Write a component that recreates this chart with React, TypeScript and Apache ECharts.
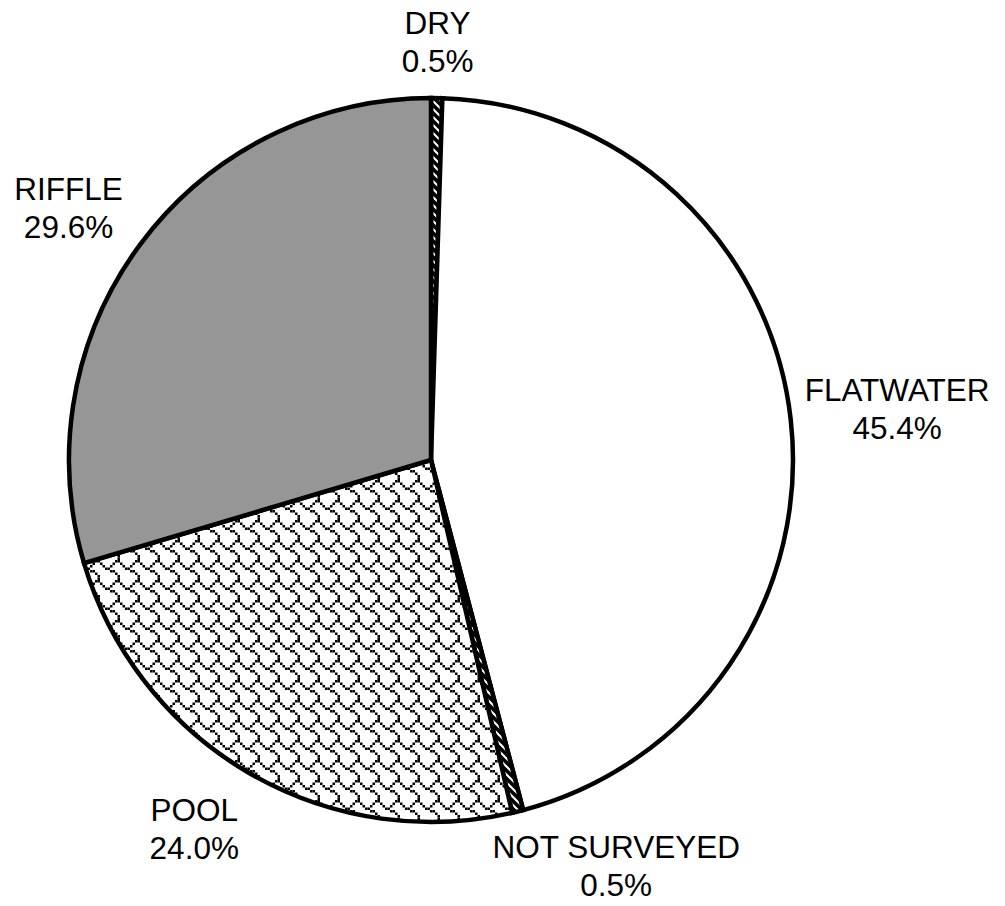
import React, { useEffect, useRef } from "react";
import * as echarts from "echarts";

// Stream habitat composition (percent of surveyed length)
const categories = ["DRY", "FLATWATER", "NOT SURVEYED", "POOL", "RIFFLE"];
const shares = [0.5, 45.4, 0.5, 24.0, 29.6];

const CENTER: [number, number] = [431, 460];
const RADIUS = 362;
const LABEL_GAP = 19;
// Hand adjustments of each label away from its computed outside position
const labelNudge: [number, number][] = [
  [0, 2],
  [-8, 3],
  [78, -29],
  [-17, -8],
  [-4, 15],
];
const FONT = "'Liberation Sans', Arial, Helvetica, sans-serif";

// 8x8 shingle hatch bitmap, one byte per row (MSB = left pixel)
const shingleRows = [0x03, 0x84, 0x48, 0x30, 0x0c, 0x02, 0x01, 0x01];

function svgUrl(svg: string) {
  return "data:image/svg+xml;charset=utf-8," + encodeURIComponent(svg);
}

function bitmapPattern(rows: number[], scale: number) {
  const size = 8 * scale;
  let rects = "";
  rows.forEach((row, y) => {
    for (let x = 0; x < 8; x++) {
      if (row & (0x80 >> x)) {
        rects += `<rect x="${x * scale}" y="${y * scale}" width="${scale}" height="${scale}"/>`;
      }
    }
  });
  const svg = `<svg xmlns="http://www.w3.org/2000/svg" width="${size}" height="${size}"><rect width="${size}" height="${size}" fill="#fff"/><g fill="#000">${rects}</g></svg>`;
  return { image: svgUrl(svg), repeat: "repeat", imageWidth: size, imageHeight: size };
}

function stripePattern(size: number, width: number) {
  const e = size + 2;
  const svg = `<svg xmlns="http://www.w3.org/2000/svg" width="${size}" height="${size}"><rect width="${size}" height="${size}" fill="#fff"/><path d="M-2,-2 L${e},${e} M-2,${size - 2} L2,${size + 2} M${size - 2},-2 L${size + 2},2" stroke="#000" stroke-width="${width}" fill="none"/></svg>`;
  return { image: svgUrl(svg), repeat: "repeat", imageWidth: size, imageHeight: size };
}

const fills = [
  stripePattern(8, 3.6),
  "#ffffff",
  stripePattern(8, 3.6),
  bitmapPattern(shingleRows, 2.5),
  "#969696",
];

export default function App() {
  const ref = useRef<HTMLDivElement>(null);

  useEffect(() => {
    if (!ref.current) return;
    const chart = echarts.init(ref.current, null, { renderer: "svg" });
    const total = shares.reduce((a, b) => a + b, 0);

    chart.setOption({
      animation: false,
      backgroundColor: "#ffffff",
      series: [
        {
          type: "pie",
          center: CENTER,
          radius: [0, RADIUS],
          startAngle: 90,
          clockwise: true,
          avoidLabelOverlap: false,
          emphasis: { disabled: true },
          data: categories.map((name, i) => ({
            name,
            value: shares[i],
            itemStyle: { color: fills[i] as any },
          })),
          itemStyle: {
            borderColor: "#000000",
            borderWidth: 4.5,
            borderJoin: "miter",
          },
          label: {
            show: true,
            position: "outside",
            formatter: (p: any) => `${p.name}\n${Number(p.value).toFixed(1)}%`,
            color: "#000000",
            fontFamily: FONT,
            fontSize: 31.5,
            lineHeight: 38,
            align: "center",
          },
          labelLine: { show: false },
          labelLayout: (p: any) => {
            const i = p.dataIndex;
            const before = shares.slice(0, i).reduce((a, b) => a + b, 0);
            const mid = ((before + shares[i] / 2) / total) * Math.PI * 2;
            const ux = Math.sin(mid);
            const uy = -Math.cos(mid);
            const hw = p.labelRect.width / 2;
            const hh = p.labelRect.height / 2;
            const d = RADIUS + LABEL_GAP + hw * Math.abs(ux) + hh * Math.abs(uy);
            return {
              x: CENTER[0] + d * ux + labelNudge[i][0],
              y: CENTER[1] + d * uy + labelNudge[i][1],
              align: "center",
              verticalAlign: "middle",
            };
          },
        },
      ],
    });

    return () => chart.dispose();
  }, []);

  return (
    <div
      ref={ref}
      style={{ position: "absolute", left: 0, top: 0, width: 1005, height: 906, background: "#fff" }}
    />
  );
}
